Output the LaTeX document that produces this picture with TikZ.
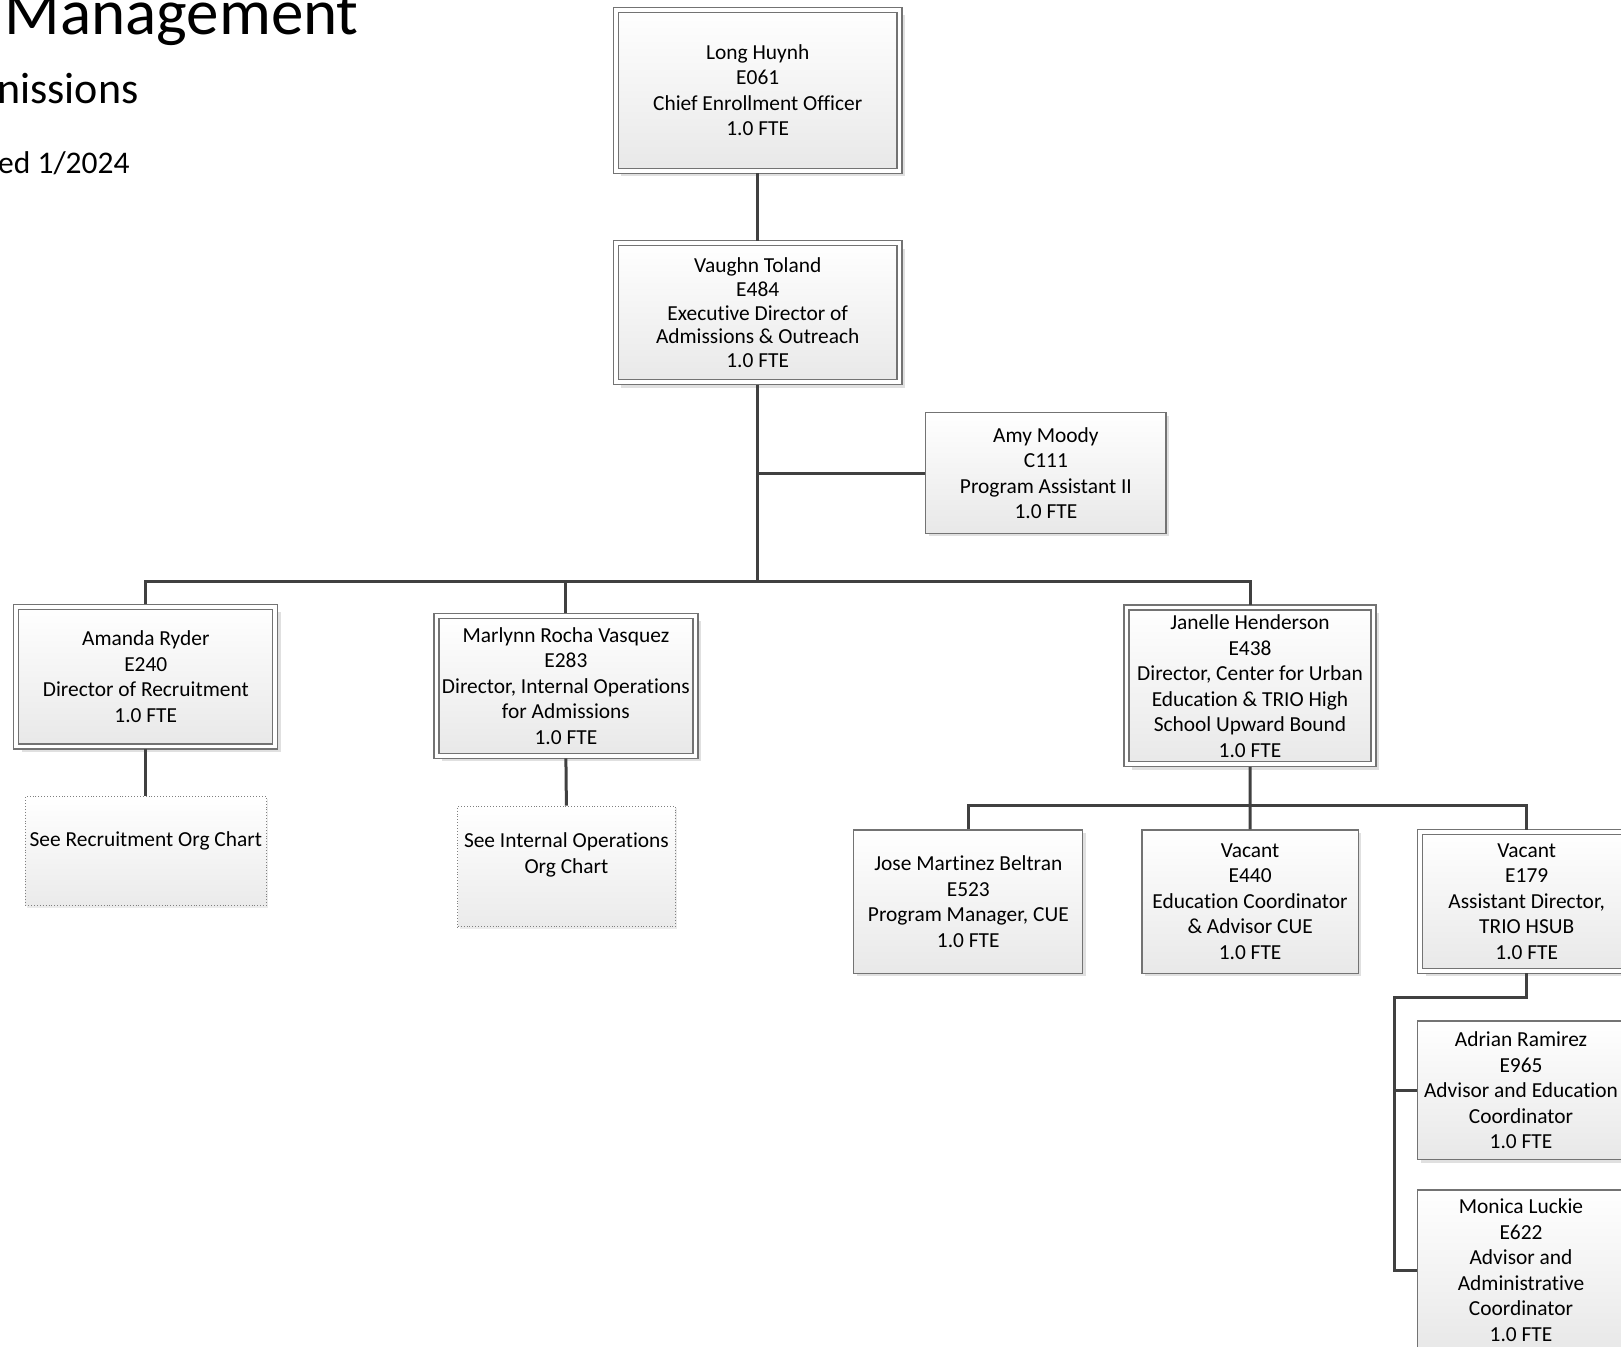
\documentclass[tikz,border=0pt]{standalone}
\usepackage{fontspec}
\setmainfont{Carlito}[Ligatures=NoCommon]
\usetikzlibrary{shadows}
\newcommand\cardfont{\fontsize{21.4}{25.5}\selectfont}

\begin{document}
\begin{tikzpicture}[x=1pt,y=-1pt,
    card/.style={top color=white,bottom color=black!9,align=center,font=\cardfont,inner sep=0pt},
    single/.style={card,draw=black!55,line width=1.2pt,
      drop shadow={shadow xshift=3pt,shadow yshift=-3pt,fill=black!12,opacity=1}},
    twin/.style={card,draw=black!55,line width=1.2pt,double=white,double distance=3.8pt,outer sep=2.5pt,
      drop shadow={shadow xshift=5.5pt,shadow yshift=-5.5pt,fill=black!12,opacity=1}},
    see/.style={top color=white,bottom color=black!8,draw=black!50,dotted,line width=0.9pt,
      drop shadow={shadow xshift=2pt,shadow yshift=-2pt,fill=black!8,opacity=1}},
    seetext/.style={align=center,font=\cardfont,inner sep=0pt,anchor=north},
    link/.style={draw=black!75,line width=3pt}]
  \useasboundingbox (0,0) rectangle (1621,1346);
  \path
    (4.5,35) node[anchor=base west,inner sep=0pt,font=\fontsize{65}{72}\selectfont] (title){Management}
    (-3,103.4) node[anchor=base west,inner sep=0pt,font=\fontsize{44}{50}\selectfont] (unit){nissions}
    (-2,173.3) node[anchor=base west,inner sep=0pt,font=\fontsize{31.5}{36}\selectfont] (revised){ed 1/2024};
  \path
    (757.7,90.3) node[twin,minimum width=283.7,minimum height=161] (ceo){Long Huynh\\E061\\Chief Enrollment Officer\\1.0 FTE}
    (757.7,312.7) node[twin,minimum width=283.7,minimum height=138.9,font=\fontsize{21.4}{23.7}\selectfont] (exec){Vaughn Toland\\E484\\Executive Director of\\Admissions \& Outreach\\1.0 FTE}
    (1045.9,473) node[single,minimum width=240.3,minimum height=120.6] (asst){Amy Moody\\C111\\Program Assistant II\\1.0 FTE}
    (145.8,676.7) node[twin,minimum width=259,minimum height=139.7] (recr){Amanda Ryder\\E240\\Director of Recruitment\\1.0 FTE}
    (565.9,685.8) node[twin,minimum width=259,minimum height=140] (intops){Marlynn Rocha Vasquez\\E283\\Director, Internal Operations\\for Admissions\\1.0 FTE}
    (1250,685.9) node[twin,minimum width=247,minimum height=156.7] (cue){Janelle Henderson\\E438\\Director, Center for Urban\\Education \& TRIO High\\School Upward Bound\\1.0 FTE}
    (145.8,851.2) node[see,minimum width=241,minimum height=109] (recrsee){}
    (566.4,866.4) node[see,minimum width=217.2,minimum height=120.7] (opssee){}
    (968.3,901.7) node[single,minimum width=229,minimum height=143.3] (cuepm){Jose Martinez Beltran\\E523\\Program Manager, CUE\\1.0 FTE}
    (1250.1,901.7) node[single,minimum width=216.2,minimum height=143.3] (cueec){Vacant\\E440\\Education Coordinator\\\& Advisor CUE\\1.0 FTE}
    (1526.7,901.5) node[twin,minimum width=213,minimum height=138.8] (hsub){Vacant\\E179\\Assistant Director,\\TRIO HSUB\\1.0 FTE}
    (1521,1090.3) node[single,minimum width=206.6,minimum height=138.7] (hsubadv){Adrian Ramirez\\E965\\Advisor and Education\\Coordinator\\1.0 FTE}
    (1521,1270) node[single,minimum width=206.6,minimum height=160] (hsubadm){Monica Luckie\\E622\\Advisor and\\Administrative\\Coordinator\\1.0 FTE};
  \node[seetext,below=35pt] (recrnote) at (recrsee.north) {See Recruitment Org Chart};
  \node[seetext,below=27pt] (opsnote) at (opssee.north) {See Internal Operations\\Org Chart};
  \coordinate (j1) at (757.7,581);
  \coordinate (j2) at (1250,805);
  \coordinate (j3) at (1394,997.8);
  \begin{scope}[link]
    \draw (ceo) to (exec);
    \draw (exec.south) to (j1);
    \draw (j1 |- asst.west) to (asst.west);
    \draw (recr.north) -- (recr.north |- j1) -- (cue.north |- j1) -- (cue.north);
    \draw (intops.north) to (intops.north |- j1);
    \draw (recr.south) to (recrsee.north);
    \draw (intops.south) to (opssee.north);
    \draw (cue.south) to (cueec.north);
    \draw (cuepm.north) -- (cuepm.north |- j2) -- (hsub.north |- j2) -- (hsub.north);
    \draw (hsub.south) -- (hsub.south |- j3) -- (j3) -- (j3 |- hsubadm.west) -- (hsubadm.west);
    \draw (j3 |- hsubadv.west) to (hsubadv.west);
  \end{scope}
\end{tikzpicture}
\end{document}
